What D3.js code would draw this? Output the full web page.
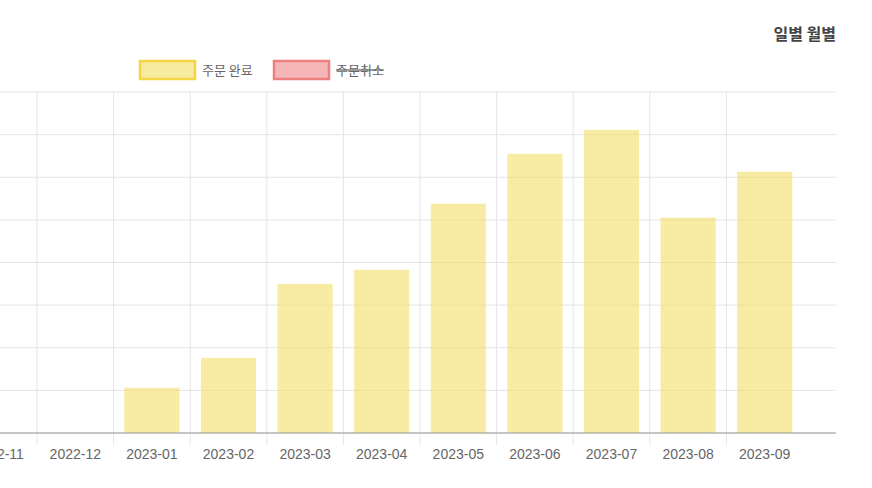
<!DOCTYPE html>
<html><head><meta charset="utf-8">
<script src="https://cdn.jsdelivr.net/npm/d3@7"></script>
<style>body{margin:0;background:#fff;font-family:"Noto Sans CJK KR","Liberation Sans",sans-serif}</style>
</head><body><svg id="c" width="872" height="488"></svg>
<script>
const categories=["2022-11","2022-12","2023-01","2023-02","2023-03","2023-04","2023-05","2023-06","2023-07","2023-08","2023-09"];
const completed=[0,0,10.6,17.6,35,38.3,53.8,65.5,71.1,50.5,61.3];
const cancelled=[0,0,0,0,0,0,0,0,0,0,0];
const yTicks=[0,10,20,30,40,50,60,70,80];
(function(){
const svg=d3.select("#c");
const pTop=92,pBottom=433,pRight=836;
const step=76.6, x0=37-step;
const x=d3.scaleBand().domain(categories).range([x0,x0+step*categories.length]).paddingInner(0.28).paddingOuter(0.14);
const y=d3.scaleLinear().domain([0,80]).range([pBottom,pTop]);
const g=svg.append("g");
g.selectAll(".h").data(yTicks).join("line").attr("x1",0).attr("x2",pRight)
 .attr("y1",d=>y(d)).attr("y2",d=>y(d)).attr("stroke","#e5e5e5");
const bounds=categories.slice(0,-1).map((c,i)=>x0+step*(i+1));
g.selectAll(".v").data(bounds).join("line").attr("x1",d=>d).attr("x2",d=>d)
 .attr("y1",pTop).attr("y2",pBottom+12).attr("stroke","#e5e5e5");
g.selectAll(".b").data(categories).join("rect")
 .attr("x",d=>x(d)).attr("width",x.bandwidth())
 .attr("y",(d,i)=>y(completed[i])).attr("height",(d,i)=>pBottom-y(completed[i]))
 .attr("fill","rgba(243,221,90,0.55)");
g.append("line").attr("x1",0).attr("x2",pRight).attr("y1",pBottom).attr("y2",pBottom).attr("stroke","#999");
g.selectAll(".t").data(categories).join("text").attr("x",d=>x(d)+x.bandwidth()/2).attr("y",459)
 .attr("text-anchor","middle").attr("font-size",14).attr("fill","#666")
 .attr("font-family","Liberation Sans, sans-serif").text(d=>d);
svg.append("text").attr("x",pRight).attr("y",40).attr("text-anchor","end").attr("font-size",16)
 .attr("font-weight","bold").attr("fill","#444").text("일별 월별");
const lg=svg.append("g");
lg.append("rect").attr("x",140).attr("y",61).attr("width",55).attr("height",18).attr("fill","#f7eba0").attr("stroke","#f5d546").attr("stroke-width",2.5);
lg.append("text").attr("x",202).attr("y",75).attr("font-size",13).attr("fill","#666").text("주문 완료");
lg.append("rect").attr("x",274).attr("y",61).attr("width",55).attr("height",18).attr("fill","#f4b6b6").attr("stroke","#ef8080").attr("stroke-width",2.5);
lg.append("text").attr("x",336).attr("y",75).attr("font-size",13).attr("fill","#666").attr("text-decoration","line-through").text("주문취소");
})();
</script></body></html>
